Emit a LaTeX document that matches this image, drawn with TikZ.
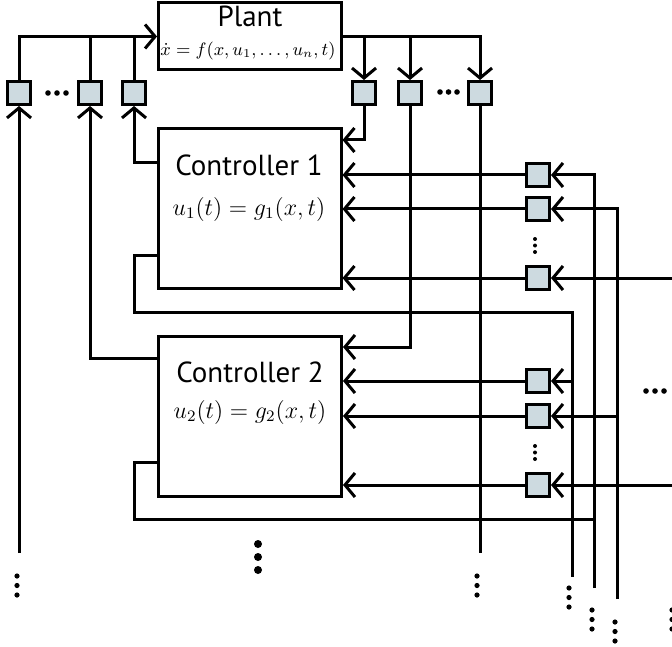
\documentclass[tikz,border=0pt]{standalone}
\usepackage{amsmath,amssymb}
\usepackage{fontspec}
\newfontfamily\blockfont{PT Sans}
\usetikzlibrary{arrows.meta}
\definecolor{boxfill}{RGB}{205,218,224}
\tikzset{
  blk/.style={draw,line width=1.5pt,inner sep=0pt},
  sq/.style={draw,line width=1.5pt,fill=boxfill,minimum size=11.5pt,inner sep=0pt},
  blocktitle/.style={font=\blockfont\fontsize{14.5}{17}\selectfont},
  law/.style={font=\fontsize{11.7}{14}\selectfont},
  arr/.style={-{Straight Barb[length=5pt,width=12pt,line width=1.5pt]}},
}

\begin{document}
\begin{tikzpicture}[x=0.5pt,y=-0.5pt,line width=1.5pt]
    \useasboundingbox (0,0) rectangle (672,646);
    % blocks
    \node[blk,minimum width=91.5pt,minimum height=33.5pt] (plant) at (250,36.5) {};
    \node[blocktitle] (plantname) at (250,16) {Plant};
    \node (plantlaw) at (248,51) {\fontsize{9.2}{11}\selectfont $\dot{x}=f(x,u_1,\ldots,u_n,t)$};
    \node[blk,minimum width=91.5pt,minimum height=79.5pt] (ctrlA) at (249.5,208.5) {};
    \node[blocktitle] (nameA) at (249,165) {Controller 1};
    \node[law] (lawA) at (249,209) {$u_1(t)=g_1(x,t)$};
    \node[blk,minimum width=91.5pt,minimum height=80pt] (ctrlB) at (250,416) {};
    \node[blocktitle] (nameB) at (250,372) {Controller 2};
    \node[law] (lawB) at (250,412) {$u_2(t)=g_2(x,t)$};
    % actuators and sensors
    \node[sq] (act1) at (19,93) {};
    \node[sq] (act2) at (90,93) {};
    \node[sq] (act3) at (134,93) {};
    \node[sq] (sen1) at (364,93) {};
    \node[sq] (sen2) at (410,93) {};
    \node[sq] (sen3) at (480,93) {};
    % network links
    \node[sq] (net11) at (538,175) {};
    \node[sq] (net12) at (538,209) {};
    \node[sq] (net13) at (538,278) {};
    \node[sq] (net21) at (538,381) {};
    \node[sq] (net22) at (538,416) {};
    \node[sq] (net23) at (538,485) {};
    \coordinate (outA) at (572,577);
    \coordinate (outB) at (594,588);
    \coordinate (outC) at (617,599);
    \coordinate (inA) at (672,278);
    \coordinate (inB) at (672,485);

    % plant in and out
    \draw[arr] (act1.north) |- (plant.west);
    \draw (act2.north) -- (act2.north |- plant.west);
    \draw (act3.north) -- (act3.north |- plant.west);
    \draw[arr] (plant.east) -| (sen3.north);
    \draw[arr] (sen1.north |- plant.east) -- (sen1.north);
    \draw[arr] (sen2.north |- plant.east) -- (sen2.north);
    \draw[arr] (act1.south |- 0,553) -- (act1.south);
    \draw[arr] (ctrlA.west |- 0,163) -| (act3.south);
    \draw[arr] (ctrlB.west |- 0,358) -| (act2.south);
    \draw[arr] (sen1.south) |- (ctrlA.east |- 0,140);
    \draw[arr] (sen2.south) |- (ctrlB.east |- 0,347);
    \draw (sen3.south) -- (sen3.south |- 0,553);

    % controller outputs to the network
    \draw (ctrlA.west |- 0,255) -| (134,312) -| (outA);
    \draw (ctrlB.west |- 0,462) -| (134,519) -- (outB |- 0,519);
    \draw[arr] (outA |- net21) -- (net21.east);
    \draw[arr] (outB) |- (net11.east);
    \draw[arr] (outC) |- (net12.east);
    \draw[arr] (outC |- net22) -- (net22.east);
    \draw[arr] (inA) -- (net13.east);
    \draw[arr] (inB) -- (net23.east);
    \foreach \n in {net11,net12,net13}
        \draw[arr] (\n.west) -- (\n.west -| ctrlA.east);
    \foreach \n in {net21,net22,net23}
        \draw[arr] (\n.west) -- (\n.west -| ctrlB.east);

    % dots
    \foreach \x in {48,57,66} \fill (\x,93) circle (1.4pt);
    \foreach \x in {440,448.5,457} \fill (\x,92) circle (1.4pt);
    \foreach \x in {646,655,664} \fill (\x,391) circle (1.4pt);
    \foreach \y in {239,245.5,252} {
        \fill (535,\y) circle (1pt);
        \fill (535,\y+207) circle (1pt);
    }
    \foreach \y in {544,557,570} \fill (258,\y) circle (2pt);
    \foreach \y in {576,585.5,595} {
        \fill (17,\y) circle (1.3pt);
        \fill (477,\y) circle (1.3pt);
    }
    \foreach \y in {588,597.5,607} \fill (569,\y) circle (1.3pt);
    \foreach \y in {610,619.5,629} {
        \fill (592,\y) circle (1.3pt);
        \fill (672,\y) circle (1.3pt);
    }
    \foreach \y in {622,631.5,641} \fill (615,\y) circle (1.3pt);
\end{tikzpicture}
\end{document}
